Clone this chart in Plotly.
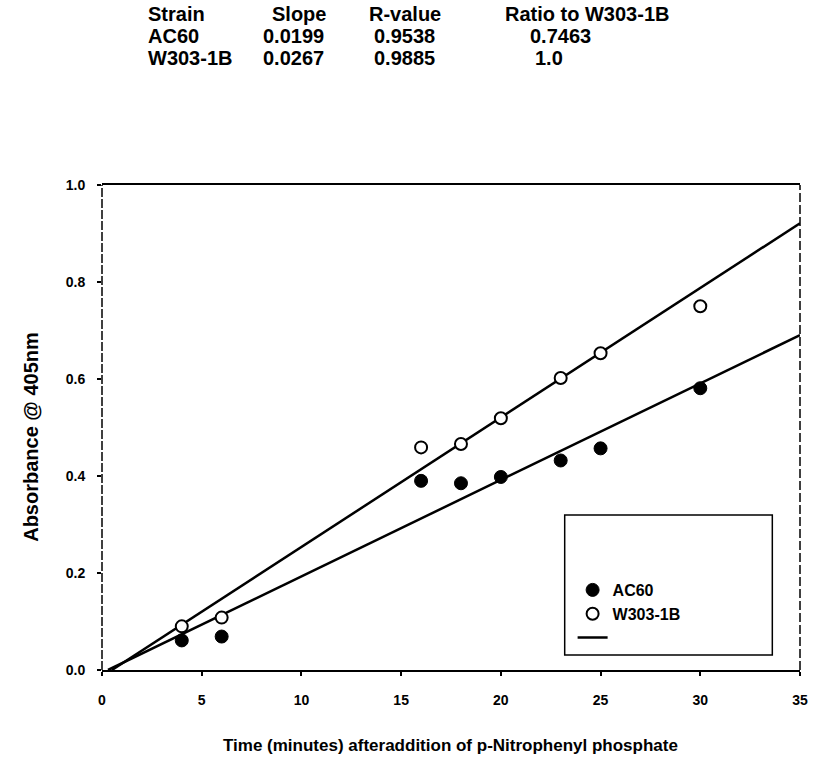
import plotly.graph_objects as go

# ---- data ----
time_min = [4, 6, 16, 18, 20, 23, 25, 30]
ac60_abs = [0.061, 0.069, 0.390, 0.385, 0.398, 0.432, 0.457, 0.581]
w303_abs = [0.090, 0.108, 0.459, 0.466, 0.519, 0.602, 0.653, 0.750]

strains = ["AC60", "W303-1B"]
slopes = [0.0199, 0.0267]
intercepts = [-0.006, -0.0133]
r_values = ["0.9538", "0.9885"]
ratios = ["0.7463", "1.0"]
table_header = ["Strain", "Slope", "R-value", "Ratio to W303-1B"]

x_ticks = [0, 5, 10, 15, 20, 25, 30, 35]
y_ticks = [0.0, 0.2, 0.4, 0.6, 0.8, 1.0]
x_max = 35

FONT = "Liberation Sans, Arial, sans-serif"

# plot area in pixels
L, R, T, B = 102, 808, 185, 670
W, H = 819, 784
def px_x(p):
    return (p - L) / (R - L)
def px_y(p):
    return (B - p) / (B - T)

fig = go.Figure()

# fit lines
for name, m, b in zip(strains, slopes, intercepts):
    x0 = -b / m
    xs = [x0, x_max]
    ys = [m * xv + b for xv in xs]
    fig.add_trace(go.Scatter(x=xs, y=ys, mode="lines",
                             line=dict(color="black", width=2.5),
                             name=" ", showlegend=(name == "W303-1B"),
                             legendrank=3, hoverinfo="skip"))

fig.add_trace(go.Scatter(x=time_min, y=ac60_abs, mode="markers", name="AC60",
                         marker=dict(symbol="circle", size=13, color="black",
                                     line=dict(color="black", width=1)),
                         legendrank=1))
fig.add_trace(go.Scatter(x=time_min, y=w303_abs, mode="markers", name="W303-1B",
                         marker=dict(symbol="circle", size=12, color="white",
                                     line=dict(color="black", width=2)),
                         legendrank=2))

annotations = []
TFONT = dict(family=FONT, size=20, color="black", weight="bold")
# table
hdr_x = [148, 273, 371, 509]
val_x = [148, 264, 376, 534]
row_y = [14, 36, 58]
for t, xp in zip(table_header, hdr_x):
    annotations.append(dict(text=t, x=px_x(xp), y=px_y(row_y[0]), xref="paper", yref="paper",
                            xanchor="left", yanchor="middle", showarrow=False,
                            borderpad=0, font=TFONT))
for i, s in enumerate(strains):
    vals = [s, f"{slopes[i]:.4f}", r_values[i], ratios[i]]
    for j, (v, xp) in enumerate(zip(vals, val_x)):
        if j == 3 and v == "1.0":
            xp = 539
        annotations.append(dict(text=v, x=px_x(xp), y=px_y(row_y[i + 1]), xref="paper", yref="paper",
                                xanchor="left", yanchor="middle", showarrow=False,
                                borderpad=0, font=TFONT))

# x title
annotations.append(dict(text="Time (minutes) afteraddition of p-Nitrophenyl phosphate",
                        x=px_x(454), y=px_y(745), xref="paper", yref="paper",
                        xanchor="center", yanchor="middle", showarrow=False,
                        font=dict(family=FONT, size=17, color="black", weight="bold")))
# y title
annotations.append(dict(text="Absorbance @ 405nm", textangle=-90,
                        x=px_x(30), y=px_y(437), xref="paper", yref="paper",
                        xanchor="center", yanchor="middle", showarrow=False,
                        font=dict(family=FONT, size=20, color="black", weight="bold")))

shapes = [
    # left and right frame (broken, scanned look)
    dict(type="line", xref="paper", yref="paper", x0=0, x1=0, y0=0, y1=1,
         line=dict(color="black", width=1.5, dash="9px,2px")),
    dict(type="line", xref="paper", yref="paper", x0=1, x1=1, y0=0, y1=1,
         line=dict(color="black", width=1.5, dash="9px,3px")),
    # legend box
    dict(type="rect", xref="paper", yref="paper",
         x0=px_x(570), x1=px_x(780), y0=px_y(655), y1=px_y(515),
         line=dict(color="black", width=1.5), fillcolor="rgba(0,0,0,0)"),
]

fig.update_layout(
    width=W, height=H,
    margin=dict(l=L, r=W - R, t=T, b=H - B),
    paper_bgcolor="white", plot_bgcolor="white",
    font=dict(family=FONT, size=14, color="black"),
    showlegend=True,
    legend=dict(x=px_x(578), y=px_y(573), xanchor="left", yanchor="top",
                bgcolor="rgba(0,0,0,0)", borderwidth=0,
                font=dict(family=FONT, size=16, color="black", weight="bold"),
                traceorder="normal", itemwidth=30, tracegroupgap=0),
    annotations=annotations,
    shapes=shapes,
)
fig.update_xaxes(range=[0, x_max], tickvals=x_ticks, ticktext=[str(v) for v in x_ticks],
                 showgrid=False, zeroline=False, showline=True, mirror=True,
                 linecolor="black", linewidth=2, ticks="outside", ticklen=4,
                 tickcolor="black", tickwidth=1.5, ticklabelstandoff=12,
                 ticklabeloverflow="allow",
                 tickfont=dict(family=FONT, size=14, color="black", weight="bold"))
fig.update_yaxes(range=[0, 1.0], tickvals=y_ticks, ticktext=[f"{v:.1f}" for v in y_ticks],
                 showgrid=False, zeroline=False, showline=False,
                 ticks="outside", ticklen=4, tickcolor="black", tickwidth=1.5,
                 ticklabelstandoff=9,
                 tickfont=dict(family=FONT, size=14, color="black", weight="bold"))

fig.write_html("out.html", config={"displayModeBar": False},
               post_script="document.body.style.margin='0';"
                           "document.body.style.overflow='hidden';")
